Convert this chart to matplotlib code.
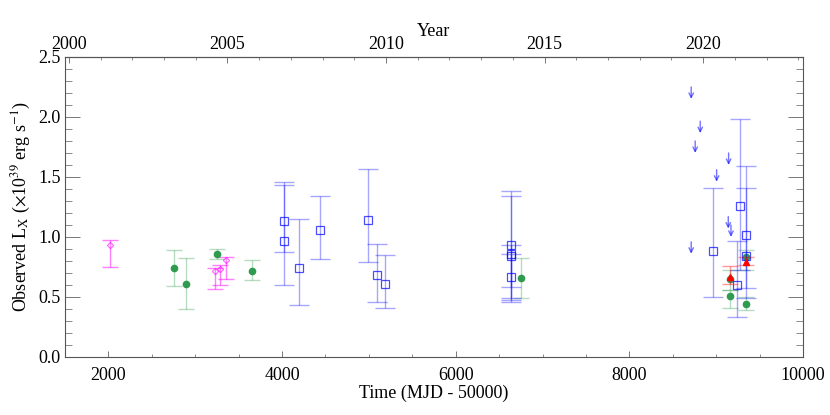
import matplotlib
matplotlib.use("Agg")
import matplotlib.pyplot as plt
import numpy as np

plt.rcParams['font.family'] = ['Liberation Serif', 'DejaVu Serif']
plt.rcParams['mathtext.fontset'] = 'stix'

# Chandra / ACIS-like points (open squares), MJD - 50000
blue_t = [4017, 4017, 4198, 4436, 4993, 5093, 5185,
          6637, 6637, 6637, 6637, 8962, 9279, 9243, 9343, 9343]
blue_l = [1.13, 0.97, 0.745, 1.06, 1.14, 0.68, 0.605,
          0.93, 0.855, 0.84, 0.665, 0.88, 1.255, 0.60, 1.02, 0.84]
blue_hi = [1.46, 1.43, 1.15, 1.34, 1.57, 0.945, 0.85,
           1.38, 1.34, 0.93, 0.86, 1.41, 1.98, 0.97, 1.59, 1.41]
blue_lo = [0.875, 0.60, 0.43, 0.82, 0.79, 0.46, 0.41,
           0.475, 0.455, 0.585, 0.495, 0.50, 0.725, 0.33, 0.575, 0.49]

# filled circles
green_t = [2761, 2891, 3256, 3652, 6757, 9163, 9163, 9343, 9343]
green_l = [0.745, 0.61, 0.86, 0.72, 0.655, 0.65, 0.51, 0.835, 0.445]
green_hi = [0.89, 0.825, 0.90, 0.805, 0.825, 0.725, 0.56, 0.89, 0.50]
green_lo = [0.59, 0.40, 0.82, 0.64, 0.49, 0.56, 0.405, 0.725, 0.39]

# open diamonds
mag_t = [2015, 3233, 3283, 3360]
mag_l = [0.93, 0.72, 0.735, 0.805]
mag_hi = [0.975, 0.745, 0.77, 0.835]
mag_lo = [0.75, 0.57, 0.60, 0.65]

# filled triangles
red_t = [9163, 9343]
red_l = [0.67, 0.795]
red_hi = [0.76, 0.835]
red_lo = [0.61, 0.77]

# upper limits
ul_t = [8712, 8816, 8758, 9143, 9005, 9139, 9170, 8712]
ul_l = [2.25, 1.965, 1.80, 1.70, 1.56, 1.17, 1.10, 0.96]


def yerr(l, hi, lo):
    l, hi, lo = np.array(l), np.array(hi), np.array(lo)
    return [l - lo, hi - l]


fig = plt.figure(figsize=(8.3, 4.15), dpi=100)
ax = fig.add_axes([0.0783, 0.1398, 0.8892, 0.7229])

ax.errorbar(mag_t, mag_l, yerr=yerr(mag_l, mag_hi, mag_lo), fmt='none',
            ecolor='#ff00ff', alpha=0.5, elinewidth=1, capsize=6, capthick=1)
ax.plot(mag_t, mag_l, 'D', ms=3.2, mfc='none', mec='#ff00ff', mew=0.8, alpha=0.6)

ax.errorbar(green_t, green_l, yerr=yerr(green_l, green_hi, green_lo), fmt='none',
            ecolor='#2e9b4f', alpha=0.35, elinewidth=1, capsize=6, capthick=1)
ax.plot(green_t, green_l, 'o', ms=4.5, color='#2e9b4f')

ax.errorbar(blue_t, blue_l, yerr=yerr(blue_l, blue_hi, blue_lo), fmt='none',
            ecolor='#0000ff', alpha=0.35, elinewidth=1, capsize=7, capthick=1)
ax.plot(blue_t, blue_l, 's', ms=5.5, mfc='none', mec='#0000ff', mew=0.9, alpha=0.7)

ax.errorbar(red_t, red_l, yerr=yerr(red_l, red_hi, red_lo), fmt='none',
            ecolor='#ff0000', alpha=0.4, elinewidth=1, capsize=6, capthick=1)
ax.plot(red_t, red_l, '^', ms=4.5, color='#ff0000')

for t, l in zip(ul_t, ul_l):
    ax.annotate('', xy=(t, l - 0.1), xytext=(t, l),
                arrowprops=dict(arrowstyle='->', color='#0000ff', alpha=0.55,
                                lw=1, shrinkA=0, shrinkB=0,
                                mutation_scale=8))

ax.set_xlim(1500, 10000)
ax.set_ylim(0, 2.5)
ax.set_xticks([2000, 4000, 6000, 8000, 10000])
ax.set_xticks(np.arange(1500, 10001, 500), minor=True)
ax.set_yticks(np.arange(0, 2.51, 0.5))
ax.set_yticks(np.arange(0, 2.51, 0.1), minor=True)
ax.set_yticklabels(['%.1f' % v for v in np.arange(0, 2.51, 0.5)])

for s in ax.spines.values():
    s.set_color('#555555')
    s.set_linewidth(0.8)

ax.tick_params(axis='x', which='major', direction='in', length=4.5, width=0.7,
               color='#777777', labelsize=13, pad=7)
ax.tick_params(axis='x', which='minor', direction='in', length=2.2, width=0.6,
               color='#777777')
ax.tick_params(axis='y', which='major', direction='in', length=10.5, width=0.7,
               color='#777777', labelsize=13, right=True, pad=3)
ax.tick_params(axis='y', which='minor', direction='in', length=5, width=0.6,
               color='#777777', right=True)

ax.set_xlabel('Time (MJD - 50000)', fontsize=13, labelpad=1)
ax.set_ylabel(r'Observed L$_\mathrm{X}$ ($\times$10$^{39}$ erg s$^{-1}$)',
              fontsize=13, labelpad=4)

# top axis in calendar years
def mjd2yr(t):
    return 2000.0 + (np.asarray(t) + 50000.0 - 51544.0) / 365.25


def yr2mjd(y):
    return (np.asarray(y) - 2000.0) * 365.25 + 51544.0 - 50000.0


top = ax.secondary_xaxis('top', functions=(mjd2yr, yr2mjd))
top.set_xticks([2000, 2005, 2010, 2015, 2020])
top.set_xticks(np.arange(2000, 2024), minor=True)
top.tick_params(axis='x', which='major', direction='in', length=4.5, width=0.7,
                color='#777777', labelsize=13, pad=3)
top.tick_params(axis='x', which='minor', direction='in', length=2.2, width=0.6,
                color='#777777')
top.spines['top'].set_color('#555555')
top.set_xlabel('Year', fontsize=13, labelpad=0)

fig.savefig('out.png', dpi=100)
